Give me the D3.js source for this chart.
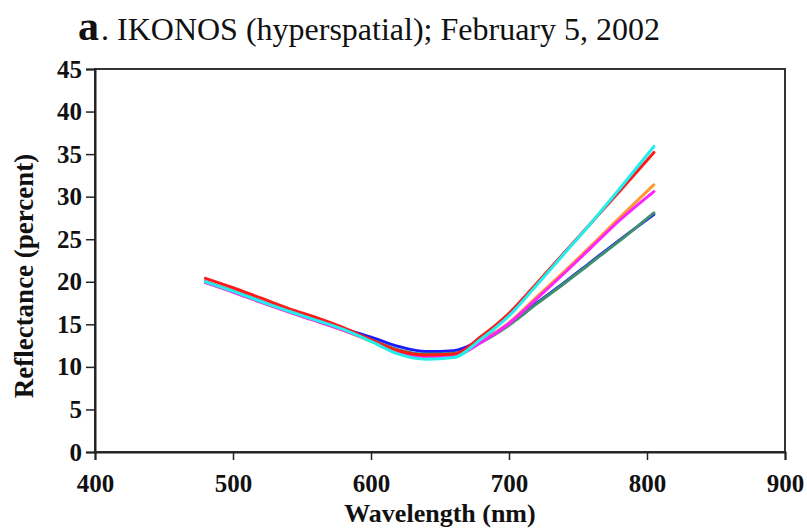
<!DOCTYPE html>
<html>
<head>
<meta charset="utf-8">
<script src="https://cdn.jsdelivr.net/npm/d3@7"></script>
<style>
  body { margin: 0; background: #fff; }
  svg text { font-family: "Liberation Serif", "Times New Roman", serif; }
</style>
</head>
<body>
<svg id="svg"></svg>
<script>
// Chart size
const width = 807;
const height = 530;
const margin = { top: 69, right: 22, bottom: 78, left: 95 };

// Data
const wavelengths = [480, 500, 520, 545, 560, 580, 600, 620, 640, 660, 680, 700, 720, 740, 760, 780, 805];
const blueValues    = [20.0, 18.9, 17.7, 16.3, 15.6, 14.5, 13.5, 12.4, 11.8, 11.9, 13.2, 15.0, 17.5, 19.9, 22.4, 24.9, 27.9];
const tealValues    = [20.0, 18.9, 17.7, 16.3, 15.5, 14.4, 13.2, 12.0, 11.5, 11.6, 12.9, 14.9, 17.4, 19.8, 22.3, 24.8, 28.1];
const orangeValues  = [19.9, 18.8, 17.6, 16.2, 15.4, 14.3, 13.0, 11.7, 11.1, 11.2, 13.0, 15.2, 18.2, 21.2, 24.3, 27.5, 31.4];
const magentaValues = [19.9, 18.8, 17.6, 16.2, 15.4, 14.3, 13.1, 11.8, 11.2, 11.3, 12.9, 15.1, 18.0, 21.0, 24.1, 27.2, 30.6];
const redValues     = [20.4, 19.3, 18.1, 16.6, 15.8, 14.6, 13.2, 11.9, 11.4, 11.5, 13.6, 16.3, 19.8, 23.4, 27.0, 30.6, 35.2];
const cyanValues    = [20.0, 18.9, 17.7, 16.3, 15.5, 14.4, 13.0, 11.5, 10.9, 11.1, 13.3, 16.0, 19.6, 23.3, 27.0, 30.9, 35.9];

const seriesNames = ["blue", "teal", "orange", "magenta", "red", "cyan"];
const seriesValues = [blueValues, tealValues, orangeValues, magentaValues, redValues, cyanValues];
const seriesColors = ["#1a1aff", "#3f8f6f", "#ff9a30", "#ff22ff", "#ff1a1a", "#22eeee"];

const xTicks = [400, 500, 600, 700, 800, 900];
const yTicks = [0, 5, 10, 15, 20, 25, 30, 35, 40, 45];

let svg = d3.select("#svg").attr("width", width).attr("height", height);

const chartWidth = width - margin.left - margin.right;
const chartHeight = height - margin.top - margin.bottom;

let chart = svg.append("g")
    .attr("transform", "translate(" + margin.left + "," + margin.top + ")");

let x = d3.scaleLinear().domain([400, 900]).range([0, chartWidth]);
let y = d3.scaleLinear().domain([0, 45]).range([chartHeight, 0]);

// frame (top and right borders)
chart.append("rect")
    .attr("width", chartWidth)
    .attr("height", chartHeight)
    .attr("fill", "none")
    .attr("stroke", "#333")
    .attr("stroke-width", 2);

// axes
let xAxis = chart.append("g")
    .attr("transform", "translate(0," + chartHeight + ")")
    .call(d3.axisBottom(x).tickValues(xTicks).tickSize(8).tickPadding(14).tickFormat(d3.format("d")));

let yAxis = chart.append("g")
    .call(d3.axisLeft(y).tickValues(yTicks).tickSize(9).tickPadding(4).tickFormat(d3.format("d")));

[xAxis, yAxis].forEach(a => {
    a.select(".domain").attr("stroke", "#222").attr("stroke-width", 2);
    a.selectAll(".tick line").attr("stroke", "#222").attr("stroke-width", 1.5);
    a.selectAll(".tick text")
        .attr("fill", "#111")
        .style("font-family", "'Liberation Serif', serif")
        .style("font-weight", "bold")
        .style("font-size", "25px");
});

// lines
const line = d3.line()
    .x((d, i) => x(wavelengths[i]))
    .y(d => y(d))
    .curve(d3.curveMonotoneX);

chart.selectAll(".series")
    .data(seriesValues)
    .enter()
    .append("path")
    .attr("class", "series")
    .attr("d", d => line(d))
    .attr("fill", "none")
    .attr("stroke", (d, i) => seriesColors[i])
    .attr("stroke-width", 3)
    .attr("stroke-linecap", "round");

// axis titles
svg.append("text")
    .attr("x", margin.left + chartWidth / 2)
    .attr("y", 522)
    .attr("text-anchor", "middle")
    .attr("fill", "#111")
    .style("font-weight", "bold")
    .style("font-size", "26px")
    .text("Wavelength (nm)");

svg.append("text")
    .attr("transform", "translate(33,276) rotate(-90)")
    .attr("text-anchor", "middle")
    .attr("fill", "#111")
    .style("font-weight", "bold")
    .style("font-size", "27px")
    .text("Reflectance (percent)");

// chart title
svg.append("text")
    .attr("x", 78)
    .attr("y", 40)
    .attr("fill", "#111")
    .style("font-weight", "bold")
    .style("font-size", "42px")
    .text("a");
svg.append("text")
    .attr("x", 101)
    .attr("y", 40)
    .attr("fill", "#111")
    .style("font-size", "32px")
    .text(". IKONOS (hyperspatial); February 5, 2002");
</script>
</body>
</html>
